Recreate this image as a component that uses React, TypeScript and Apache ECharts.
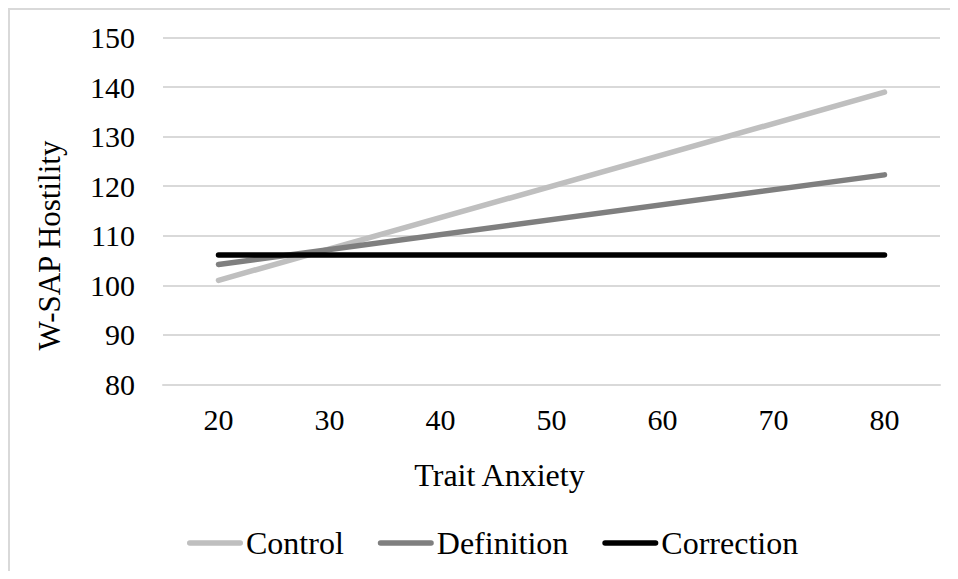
import React, { useEffect, useRef } from "react";
import * as echarts from "echarts";

const categories = ["20", "30", "40", "50", "60", "70", "80"];
const controlValues = [101, null, null, null, null, null, 139];
const definitionValues = [104.2, null, null, null, null, null, 122.3];
const correctionValues = [106.1, null, null, null, null, null, 106.1];
const seriesNames = ["Control", "Definition", "Correction"];
const seriesColors = ["#bfbfbf", "#7f7f7f", "#000000"];
const xTitle = "Trait Anxiety";
const yTitle = "W-SAP Hostility";

const FONT = "'Liberation Serif', 'Times New Roman', serif";
const LEGEND_ICON =
  "path://M2.75,0 H53.25 A2.75,2.75 0 0 1 53.25,5.5 H2.75 A2.75,2.75 0 0 1 2.75,0 Z";

export default function App() {
  const ref = useRef<HTMLDivElement>(null);
  useEffect(() => {
    if (!ref.current) return;
    const chart = echarts.init(ref.current, undefined, { renderer: "svg" });
    const datasets = [controlValues, definitionValues, correctionValues];
    chart.setOption({
      animation: false,
      textStyle: { fontFamily: FONT, color: "#000" },
      grid: { left: 153, right: 10, top: 27.7, bottom: 186.7, containLabel: false },
      legend: {
        left: 177,
        top: 517,
        padding: 0,
        itemWidth: 56,
        itemHeight: 5.5,
        itemGap: 34,
        icon: LEGEND_ICON,
        textStyle: { fontFamily: FONT, fontSize: 32, color: "#000", padding: [0, 0, 0, -2] },
        data: seriesNames,
      },
      graphic: [
        {
          type: "text",
          x: 489.5,
          y: 465,
          style: {
            text: xTitle,
            fontFamily: FONT,
            fontSize: 32,
            fill: "#000",
            align: "center",
            verticalAlign: "middle",
          },
        },
        {
          type: "text",
          x: 39,
          y: 235.5,
          rotation: Math.PI / 2,
          style: {
            text: yTitle,
            fontFamily: FONT,
            fontSize: 31,
            fill: "#000",
            align: "center",
            verticalAlign: "middle",
          },
        },
      ],
      xAxis: {
        type: "category",
        data: categories,
        boundaryGap: true,
        axisLine: { show: true, lineStyle: { color: "#d9d9d9", width: 2 } },
        axisTick: { show: false },
        axisLabel: { fontFamily: FONT, fontSize: 30, color: "#000", margin: 20 },
      },
      yAxis: {
        type: "value",
        min: 80,
        max: 150,
        interval: 10,
        axisLine: { show: false },
        axisTick: { show: false },
        splitLine: { show: true, lineStyle: { color: "#d9d9d9", width: 2 } },
        axisLabel: { fontFamily: FONT, fontSize: 30, color: "#000", margin: 28 },
      },
      series: seriesNames.map((name, i) => ({
        name,
        type: "line",
        data: datasets[i],
        connectNulls: true,
        symbol: "none",
        showSymbol: false,
        lineStyle: { color: seriesColors[i], width: 5.5, cap: "round" },
        itemStyle: { color: seriesColors[i] },
        z: 2 + i,
      })),
    });
    return () => chart.dispose();
  }, []);
  return (
    <div
      style={{
        width: 942,
        height: 563,
        boxSizing: "border-box",
        borderLeft: "2px solid #d9d9d9",
        borderTop: "2px solid #d9d9d9",
        overflow: "hidden",
      }}
    >
      <div ref={ref} style={{ width: 940, height: 561 }} />
    </div>
  );
}
